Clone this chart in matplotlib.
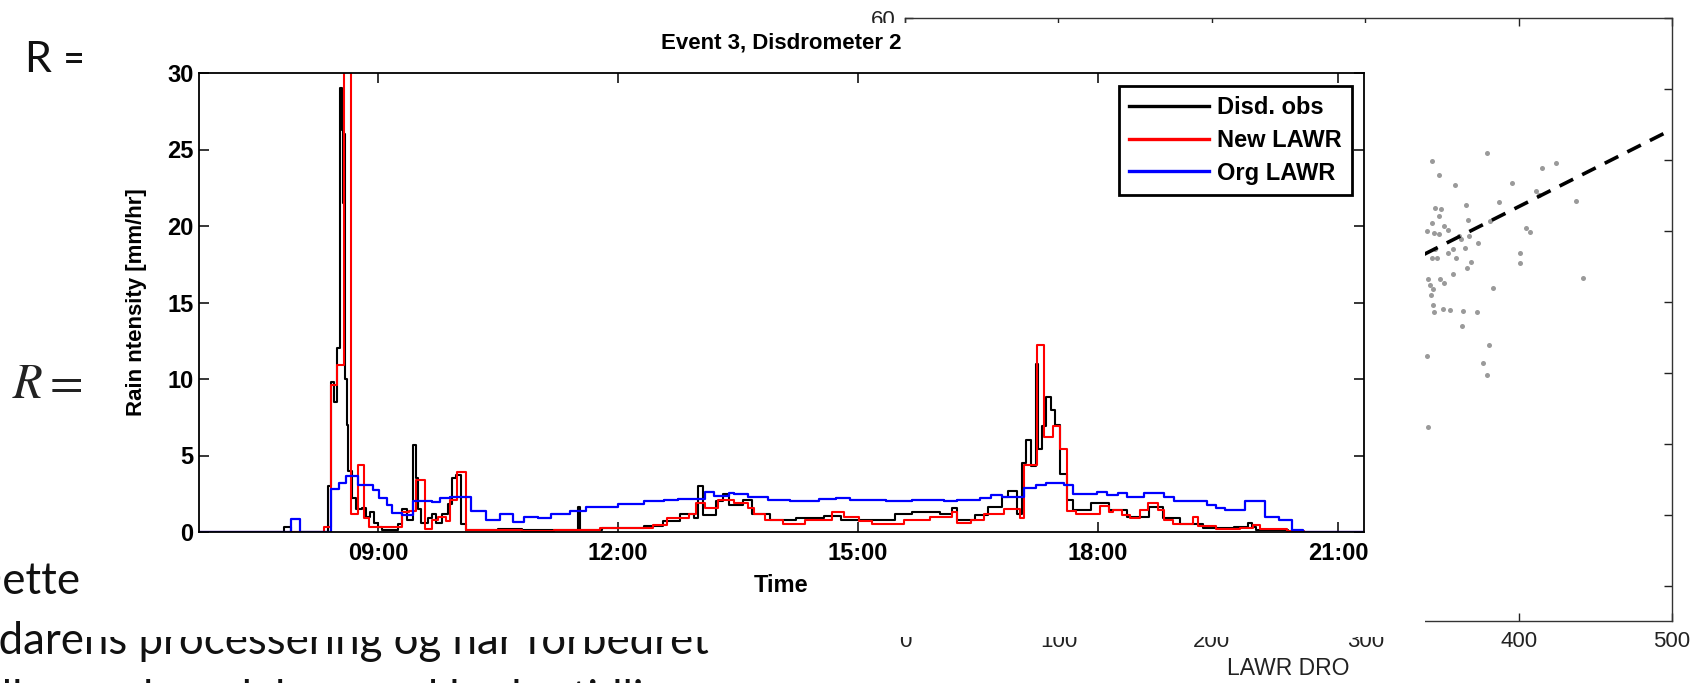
import matplotlib
matplotlib.use("Agg")
import matplotlib.pyplot as plt
from matplotlib.patches import Rectangle

# ---- time series (hours of day, step starts) ----
DISD_T = [6.76, 7.82, 7.91, 8.37, 8.41, 8.45, 8.49, 8.53, 8.555, 8.565, 8.575,
          8.585, 8.61, 8.63, 8.67, 8.72, 8.80, 8.85, 8.90, 8.95, 9.00, 9.05,
          9.25, 9.30, 9.36, 9.44, 9.47, 9.50, 9.54, 9.62, 9.68, 9.73, 9.80,
          9.87, 9.92, 9.98, 10.04, 10.10, 10.50, 10.80, 11.20, 11.50, 11.53,
          11.80, 12.33, 12.56, 12.78, 12.95, 13.00, 13.06, 13.23, 13.31, 13.39,
          13.56, 13.67, 13.90, 14.23, 14.57, 14.79, 15.46, 15.68, 16.02, 16.18,
          16.24, 16.46, 16.63, 16.80, 16.88, 16.99, 17.05, 17.10, 17.16, 17.22,
          17.25, 17.30, 17.35, 17.41, 17.46, 17.52, 17.61, 17.69, 17.91, 18.14,
          18.36, 18.64, 18.81, 19.03, 19.31, 19.70, 19.88, 19.93, 19.98, 20.37,
          21.33]
DISD_V = [0.0, 0.3, 0.0, 3.0, 9.8, 8.5, 12.0, 29.0, 26.3, 21.5, 26.0,
          10.0, 7.0, 4.0, 2.2, 1.5, 1.6, 1.0, 1.3, 0.6, 0.3, 0.1,
          0.5, 1.5, 0.8, 5.7, 3.5, 1.5, 0.6, 0.9, 1.2, 0.6, 1.2,
          1.8, 3.5, 3.7, 0.5, 0.1, 0.2, 0.1, 0.15, 1.65, 0.15,
          0.25, 0.4, 0.7, 1.2, 0.9, 3.0, 1.1, 2.0, 2.5, 1.75,
          2.1, 1.2, 0.8, 0.9, 1.05, 0.8, 1.2, 1.3, 1.2, 1.55,
          0.8, 1.1, 1.65, 2.3, 2.65, 1.2, 4.5, 6.0, 4.3, 11.0,
          5.4, 6.9, 8.85, 8.0, 7.0, 3.8, 2.1, 1.45, 1.9, 1.45,
          1.0, 1.65, 0.9, 0.55, 0.25, 0.35, 0.6, 0.35, 0.1, 0.0,
          0.0]

NEW_T = [6.76, 8.32, 8.41, 8.485, 8.58, 8.66, 8.75, 8.83, 8.89, 9.30, 9.39,
         9.47, 9.59, 9.68, 9.75, 9.85, 9.90, 9.99, 10.10, 10.80, 11.20, 11.50,
         11.78, 12.44, 12.61, 12.89, 12.97, 13.09, 13.25, 13.45, 13.62, 13.70,
         13.84, 14.06, 14.34, 14.68, 14.82, 15.01, 15.18, 15.57, 15.90, 16.18,
         16.24, 16.41, 16.57, 16.83, 17.02, 17.08, 17.24, 17.33, 17.44, 17.52,
         17.61, 17.72, 18.02, 18.14, 18.19, 18.30, 18.40, 18.53, 18.63, 18.75,
         18.82, 18.94, 19.19, 19.25, 19.48, 19.78, 19.94, 20.03, 20.36, 20.57,
         21.33]
NEW_V = [0.0, 0.33, 9.6, 10.9, 32.0, 1.2, 4.35, 0.9, 0.3, 1.3, 1.4,
         3.4, 0.2, 0.8, 1.0, 0.7, 2.1, 3.9, 0.1, 0.08, 0.1, 0.15,
         0.25, 0.45, 0.9, 1.2, 1.9, 1.55, 2.1, 1.9, 1.6, 1.2,
         0.8, 0.5, 0.8, 1.3, 1.0, 0.7, 0.55, 0.8, 0.95, 1.3,
         0.6, 0.8, 1.2, 1.5, 0.9, 4.4, 12.2, 6.2, 6.9, 5.4,
         1.4, 1.2, 1.7, 1.3, 1.45, 1.1, 0.9, 1.45, 1.9, 1.45,
         0.8, 0.5, 1.0, 0.4, 0.17, 0.25, 0.45, 0.17, 0.05, 0.0,
         0.0]

ORG_T = [6.76, 7.91, 8.02, 8.41, 8.51, 8.60, 8.75, 8.94, 9.01, 9.11, 9.18,
         9.30, 9.44, 9.59, 9.68, 9.78, 9.90, 10.16, 10.35, 10.52, 10.69, 10.83,
         11.00, 11.165, 11.40, 11.60, 12.00, 12.33, 12.58, 12.75, 13.09, 13.20,
         13.39, 13.45, 13.62, 13.87, 14.15, 14.51, 14.73, 14.90, 15.35, 15.68,
         16.07, 16.24, 16.52, 16.66, 16.80, 17.08, 17.22, 17.35, 17.58, 17.69,
         17.99, 18.11, 18.25, 18.36, 18.58, 18.83, 18.95, 19.36, 19.47, 19.59,
         19.84, 20.09, 20.26, 20.42, 20.56, 21.33]
ORG_V = [0.0, 0.87, 0.0, 2.84, 3.2, 3.65, 3.1, 2.75, 2.2, 1.75, 1.25,
         1.1, 2.05, 2.0, 1.95, 2.2, 2.3, 1.4, 0.8, 1.2, 0.65, 1.0,
         0.9, 1.2, 1.4, 1.65, 1.8, 2.0, 2.1, 2.15, 2.6, 2.35,
         2.55, 2.5, 2.3, 2.1, 2.0, 2.15, 2.25, 2.1, 2.0, 2.1,
         2.0, 2.1, 2.25, 2.4, 2.3, 2.85, 3.1, 3.2, 3.1, 2.5,
         2.6, 2.4, 2.55, 2.3, 2.55, 2.3, 2.0, 1.75, 1.55, 1.45,
         2.0, 1.0, 0.8, 0.1, 0.0, 0.0]

SERIES_LABELS = ["Disd. obs", "New LAWR", "Org LAWR"]
TIME_TICKS = [9, 12, 15, 18, 21]
TIME_LABELS = ["09:00", "12:00", "15:00", "18:00", "21:00"]
RAIN_TICKS = [0, 5, 10, 15, 20, 25, 30]

# ---- scatter behind (LAWR vs DRO) ----
SCAT_X = [343.5, 379.4, 348.1, 358.5, 395.7, 415.3, 424.4, 411.3, 413.3, 437.4,
          387.2, 365.7, 345.5, 349.4, 348.1, 343.5, 367.0, 351.4, 354.0, 340.3,
          344.9, 348.1, 361.1, 362.5, 367.7, 373.5, 404.8, 407.4, 381.4, 357.2,
          365.1, 354.0, 345.5, 343.5, 346.8, 359.2, 369.0, 366.4, 357.2, 348.8,
          351.4, 340.9, 342.2, 344.2, 342.9, 383.3, 400.9, 400.9, 442.0, 344.2,
          350.7, 355.3, 363.8, 372.9, 344.9, 363.1, 380.7, 340.3, 376.8, 379.4,
          340.9]
SCAT_Y = [39.9, 41.0, 37.9, 36.5, 36.8, 38.9, 39.6, 35.6, 35.1, 34.2,
          34.1, 33.7, 33.2, 33.1, 32.1, 31.1, 31.5, 30.7, 30.1, 30.0,
          29.7, 29.6, 29.2, 28.9, 29.2, 28.3, 30.4, 29.9, 31.4, 27.5,
          27.6, 26.9, 27.5, 26.2, 26.1, 26.1, 25.6, 24.8, 23.9, 23.2,
          22.7, 23.2, 22.4, 21.8, 21.0, 22.0, 26.9, 25.5, 23.4, 19.6,
          19.0, 18.9, 18.7, 18.5, 18.5, 16.6, 13.9, 12.4, 11.3, 9.7,
          2.4]
FIT_SLOPE = 0.109
FIT_INTERCEPT = -10.2
SCAT_XTICKS = [0, 100, 200, 300, 400, 500]
SCAT_YTICKS = [-20, -10, 0, 10, 20, 30, 40, 50, 60]

W, H = 1708, 683


def fx(px):
    return px / W


def fy(py):
    return 1 - py / H


plt.rcParams["font.family"] = ["Liberation Sans", "DejaVu Sans"]

fig = plt.figure(figsize=(W / 100, H / 100), dpi=100)
fig.patch.set_facecolor("white")

# slide text underneath the pasted figures
slide_font = ["Lato", "DejaVu Sans"]
fig.text(fx(25), fy(60), "R =", family=slide_font, fontsize=31,
         va="center", ha="left", color="#111111", zorder=1)
fig.text(fx(12), fy(386), r"$R =$", math_fontfamily="stix", fontsize=35,
         va="center", ha="left", color="#222222", zorder=1)
fig.text(fx(-31), fy(594), "Dette er", family=slide_font, fontsize=31.5,
         va="baseline", ha="left", color="#111111", zorder=1)
fig.text(fx(-39), fy(654), "radarens processering og har forbedret",
         family=slide_font, fontsize=31.5, va="baseline", ha="left",
         color="#111111", zorder=1)
fig.text(fx(-20), fy(712), "alle regnhændelser med bedre tidlig",
         family=slide_font, fontsize=31.5, va="baseline", ha="left",
         color="#111111", zorder=1)

# scatter plot (mostly hidden)
ax2 = fig.add_axes([fx(905), fy(621), (1672 - 905) / W, (621 - 18) / H])
ax2.set_zorder(1)
ax2.scatter(SCAT_X, SCAT_Y, s=13, color="#9a9a9a", linewidths=0)
fit_x = [0, 500]
fit_y = [FIT_SLOPE * v + FIT_INTERCEPT for v in fit_x]
ax2.plot(fit_x, fit_y, color="black", lw=2.6, dashes=(4.2, 2.8))
ax2.set_xlim(0, 500)
ax2.set_ylim(-25, 60)
ax2.set_xticks(SCAT_XTICKS)
ax2.set_yticks(SCAT_YTICKS)
ax2.tick_params(direction="in", top=True, right=True, length=6, width=1,
                labelsize=16, colors="#222222", pad=7)
for s in ax2.spines.values():
    s.set_color("#333333")
    s.set_linewidth(1)
ax2.set_xlabel("LAWR DRO", fontsize=16.5, color="#222222", labelpad=4)

# white background of the pasted MATLAB figure
fig.add_artist(Rectangle((fx(82), fy(637)), (1425 - 82) / W, (637 - 23) / H,
                         transform=fig.transFigure, facecolor="white",
                         edgecolor="none", zorder=2))

# time series
ax = fig.add_axes([fx(199), fy(532), (1364 - 199) / W, (532 - 73) / H])
ax.set_zorder(3)
ax.patch.set_alpha(0)
ax.step(DISD_T, DISD_V, where="post", color="black", lw=1.5)
ax.step(NEW_T, NEW_V, where="post", color="#ff0000", lw=1.5)
ax.step(ORG_T, ORG_V, where="post", color="#0000ff", lw=1.6)
ax.set_xlim(6.7625, 21.325)
ax.set_ylim(0, 30)
ax.set_xticks(TIME_TICKS)
ax.set_xticklabels(TIME_LABELS, fontweight="bold", fontsize=17)
ax.set_yticks(RAIN_TICKS)
ax.set_yticklabels([str(v) for v in RAIN_TICKS], fontweight="bold", fontsize=17)
ax.tick_params(axis="x", direction="in", top=True, length=7, width=1.1, pad=7)
ax.tick_params(axis="y", direction="in", right=True, length=7, width=1.1, pad=4)
for s in ax.spines.values():
    s.set_linewidth(1.3)
ax.set_xlabel("Time", fontweight="bold", fontsize=17)
ax.xaxis.set_label_coords(0.5, (532 - 574) / 459)
ax.set_ylabel("Rain ntensity [mm/hr]", fontweight="bold", fontsize=16)
ax.yaxis.set_label_coords((147 - 199) / 1165, 0.5)
ax.text(0.5, (532 - 43) / 459, "Event 3, Disdrometer 2", transform=ax.transAxes,
        ha="center", va="center", fontweight="bold", fontsize=16)

leg_handles = [plt.Line2D([], [], color=c, lw=2.4)
               for c in ("black", "#ff0000", "#0000ff")]
leg = ax.legend(leg_handles, SERIES_LABELS, loc="upper right",
                bbox_to_anchor=(1 - 12 / 1165, 1 - 13 / 459), borderaxespad=0,
                fancybox=False, framealpha=1, edgecolor="black",
                prop={"weight": "bold", "size": 17},
                handlelength=3.4, handletextpad=0.35, labelspacing=0.42,
                borderpad=0.42)
leg.get_frame().set_linewidth(2.0)

fig.savefig("out.png", dpi=100, facecolor="white")
